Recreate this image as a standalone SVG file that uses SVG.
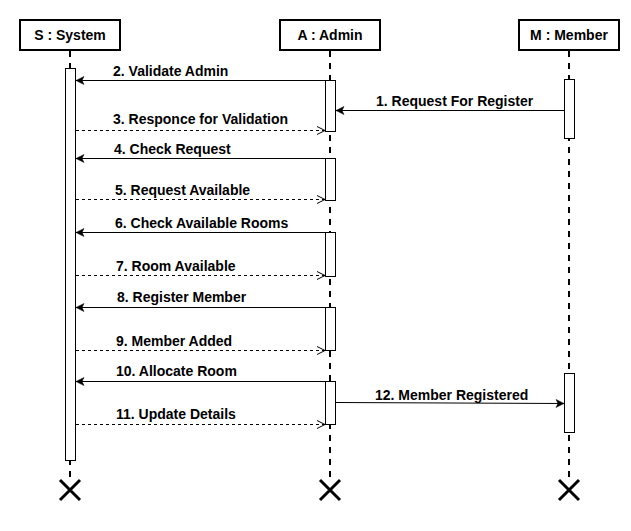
<svg xmlns="http://www.w3.org/2000/svg" width="631" height="531" viewBox="0 0 631 531">
<style>
  .head { fill: #ffffff; stroke: #000000; stroke-width: 2; }
  .life { stroke: #000000; stroke-width: 2; stroke-dasharray: 6 6; fill: none; }
  .act { fill: #ffffff; stroke: #000000; stroke-width: 1; }
  .kill { stroke: #000000; stroke-width: 3; fill: none; }
  .msg { stroke: #000000; stroke-width: 1; fill: none; marker-end: url(#classic); }
  .ret { stroke: #000000; stroke-width: 1; fill: none; stroke-dasharray: 3 3; marker-end: url(#open); }
  text { font-family: "Liberation Sans", Arial, Helvetica, sans-serif; font-size: 14px; font-weight: bold; fill: #000000; }
  .c { text-anchor: middle; }
</style>
<defs>
  <marker id="classic" markerUnits="userSpaceOnUse" markerWidth="9" markerHeight="9" refX="8" refY="4" orient="auto" overflow="visible">
    <path d="M0,0 L8,4 L0,8 L2,4 Z" fill="#000000" stroke="#000000" stroke-width="0.5"/>
  </marker>
  <marker id="open" markerUnits="userSpaceOnUse" markerWidth="9" markerHeight="9" refX="8" refY="4" orient="auto" overflow="visible">
    <path d="M0,0 L8,4 L0,8" fill="none" stroke="#000000" stroke-width="1"/>
  </marker>
</defs>
<rect width="631" height="531" fill="#ffffff"/>

<g id="system">
  <line class="life" x1="70" y1="51" x2="70" y2="480"/>
  <rect class="head" x="20" y="20" width="100" height="30"/>
  <text class="c" x="70" y="40">S : System</text>
  <rect class="act" x="65.5" y="68.5" width="10" height="392"/>
  <path class="kill" d="M60,480 L80,500 M80,480 L60,500"/>
</g>

<g id="admin">
  <line class="life" x1="330" y1="51" x2="330" y2="480"/>
  <rect class="head" x="280" y="20" width="100" height="30"/>
  <text class="c" x="330" y="40">A : Admin</text>
  <rect class="act" x="325.5" y="80.5" width="10" height="51"/>
  <rect class="act" x="325.5" y="158.5" width="10" height="42"/>
  <rect class="act" x="325.5" y="232.5" width="10" height="44"/>
  <rect class="act" x="325.5" y="307.5" width="10" height="43"/>
  <rect class="act" x="325.5" y="381.5" width="10" height="43"/>
  <path class="kill" d="M320,480 L340,500 M340,480 L320,500"/>
</g>

<g id="member">
  <line class="life" x1="569" y1="51" x2="569" y2="480"/>
  <rect class="head" x="519" y="20" width="100" height="30"/>
  <text class="c" x="569" y="40">M : Member</text>
  <rect class="act" x="564.5" y="79.5" width="10" height="59"/>
  <rect class="act" x="564.5" y="373.5" width="10" height="59"/>
  <path class="kill" d="M559,480 L579,500 M579,480 L559,500"/>
</g>

<g id="connectors">
  <line class="msg" x1="564" y1="110.5" x2="336" y2="110.5"/>
  <text x="376" y="106">1. Request For Register</text>

  <line class="msg" x1="325" y1="80.5" x2="76" y2="80.5"/>
  <text x="113" y="76">2. Validate Admin</text>

  <line class="ret" x1="76" y1="130.5" x2="325" y2="130.5"/>
  <text x="113" y="124">3. Responce for Validation</text>

  <line class="msg" x1="325" y1="158.5" x2="76" y2="158.5"/>
  <text x="114" y="154">4. Check Request</text>

  <line class="ret" x1="76" y1="199.5" x2="325" y2="199.5"/>
  <text x="115" y="195">5. Request Available</text>

  <line class="msg" x1="325" y1="232.5" x2="76" y2="232.5"/>
  <text x="115" y="228">6. Check Available Rooms</text>

  <line class="ret" x1="76" y1="275.5" x2="325" y2="275.5"/>
  <text x="116" y="271">7. Room Available</text>

  <line class="msg" x1="325" y1="307.5" x2="76" y2="307.5"/>
  <text x="117" y="302">8. Register Member</text>

  <line class="ret" x1="76" y1="350.5" x2="325" y2="350.5"/>
  <text x="116" y="346">9. Member Added</text>

  <line class="msg" x1="325" y1="381.5" x2="76" y2="381.5"/>
  <text x="116" y="376">10. Allocate Room</text>

  <line class="ret" x1="76" y1="424.5" x2="325" y2="424.5"/>
  <text x="116" y="419">11. Update Details</text>

  <line class="msg" x1="336" y1="402.5" x2="564" y2="403.5"/>
  <text x="375" y="400">12. Member Registered</text>
</g>
</svg>
